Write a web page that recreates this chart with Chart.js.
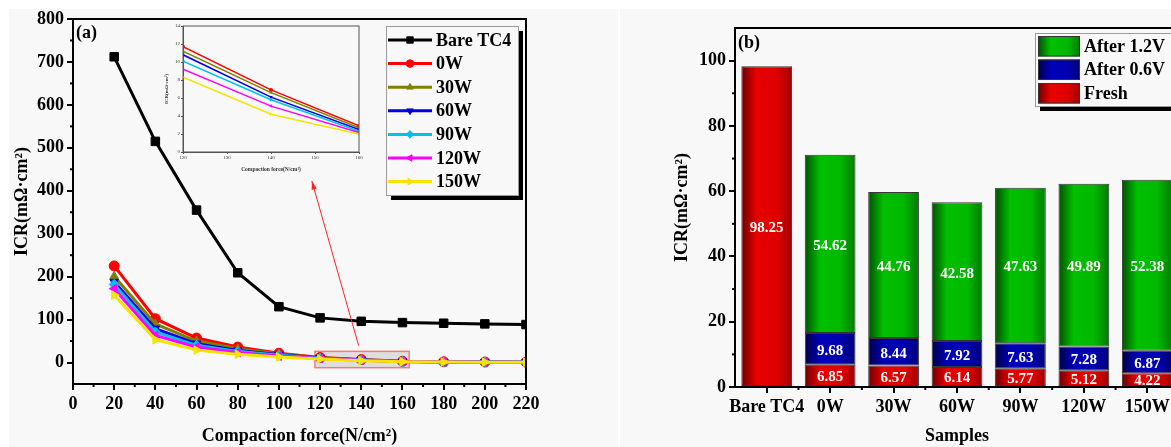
<!DOCTYPE html>
<html>
<head>
<meta charset="utf-8">
<script src="https://cdn.jsdelivr.net/npm/chart.js@4.4.1/dist/chart.umd.min.js"></script>
<style>
  html, body { margin: 0; padding: 0; width: 1171px; height: 447px; overflow: hidden; background: #fff; }
  .panel { position: absolute; background: #f8f8f8; }
  canvas { position: absolute; }
</style>
</head>
<body>
<div class="panel" style="left:9px;top:9px;width:609px;height:438px"></div>
<div class="panel" style="left:620px;top:9px;width:551px;height:438px"></div>
<canvas id="lineChart" width="600" height="447" style="left:0;top:0"></canvas>
<canvas id="insetChart" width="220" height="165" style="left:150px;top:18px"></canvas>
<canvas id="barChart" width="600" height="447" style="left:620px;top:0"></canvas>
<script>
// ---- data, panel (a) ----
var forces = [20, 40, 60, 80, 100, 120, 140, 160, 180, 200, 220];
var bareTC4 = [712, 515, 355, 209, 130, 104, 96, 93, 91.5, 90, 88.5];
var w0 = [225, 102, 57, 36, 21.7, 11.7, 6.9, 2.9, 1.6, 1.2, 0.9];
var w30 = [201, 90, 50, 32, 20, 11.2, 6.6, 2.7, 1.5, 1.1, 0.8];
var w60 = [188, 79, 44, 28, 18, 10.8, 6.1, 2.5, 1.4, 1.0, 0.8];
var w90 = [182, 71, 40, 26, 17, 10.1, 5.8, 2.3, 1.3, 1.0, 0.7];
var w120 = [172, 63, 36, 23, 15, 9.2, 5.1, 2.15, 1.2, 0.9, 0.7];
var w150 = [157, 53, 29, 19, 13, 8.3, 4.2, 2.0, 1.1, 0.8, 0.6];
var seriesNames = ['Bare TC4', '0W', '30W', '60W', '90W', '120W', '150W'];
var seriesValues = [bareTC4, w0, w30, w60, w90, w120, w150];
var xTicks = [0, 20, 40, 60, 80, 100, 120, 140, 160, 180, 200, 220];
var yTicks = [0, 100, 200, 300, 400, 500, 600, 700, 800];

// ---- data, panel (b) ----
var samples = ['Bare TC4', '0W', '30W', '60W', '90W', '120W', '150W'];
var fresh = [98.25, 6.85, 6.57, 6.14, 5.77, 5.12, 4.22];
var after06 = [null, 9.68, 8.44, 7.92, 7.63, 7.28, 6.87];
var after12 = [null, 54.62, 44.76, 42.58, 47.63, 49.89, 52.38];

// styles
var seriesColors = ['#000000', '#ff0000', '#808000', '#0000e0', '#00c0f0', '#ff00ff', '#f5e400'];
var markerStyles = ['rect', 'circle', 'triangle', 'triangle', 'rectRot', 'triangle', 'triangle'];
var markerRotation = [0, 0, 0, 180, 0, -90, 90];
var serif = '"Liberation Serif", "Times New Roman", serif';
var boldFont = { family: serif, size: 18, weight: 'bold' };

function xy(xs, ys) {
    return xs.map(function (x, i) { return { x: x, y: ys[i] }; });
}

// full box around plot area
var frame = {
    id: 'frame',
    afterDraw: function (chart, args, opts) {
        var ctx = chart.ctx, a = chart.chartArea;
        ctx.save();
        ctx.strokeStyle = opts.color || '#000';
        ctx.lineWidth = opts.width || 2;
        ctx.strokeRect(a.left, a.top, a.right - a.left, a.bottom - a.top);
        ctx.restore();
    }
};

// small ticks between the labelled ones
var minorTicks = {
    id: 'minorTicks',
    afterDraw: function (chart, args, opts) {
        var ctx = chart.ctx, a = chart.chartArea;
        var len = opts.len || 3;
        ctx.save();
        ctx.strokeStyle = '#000';
        ctx.lineWidth = opts.width || 2;
        (opts.x || []).forEach(function (v) {
            var px = chart.scales.x.getPixelForValue(v);
            ctx.beginPath(); ctx.moveTo(px, a.bottom); ctx.lineTo(px, a.bottom + len); ctx.stroke();
        });
        (opts.y || []).forEach(function (v) {
            var py = chart.scales.y.getPixelForValue(v);
            ctx.beginPath(); ctx.moveTo(a.left, py); ctx.lineTo(a.left - len, py); ctx.stroke();
        });
        ctx.restore();
    }
};

function onlyTicks(list) {
    return function (scale) {
        scale.ticks = scale.ticks.filter(function (t) { return list.indexOf(t.value) >= 0; });
    };
}

// zoom box, arrow, panel letter and legend of (a)
var panelA = {
    id: 'panelA',
    beforeDatasetsDraw: function (chart) {
        var ctx = chart.ctx, sx = chart.scales.x, sy = chart.scales.y;
        var x0 = sx.getPixelForValue(117.5), x1 = sx.getPixelForValue(163.3);
        var y0 = sy.getPixelForValue(26), y1 = sy.getPixelForValue(-12);
        ctx.save();
        ctx.fillStyle = 'rgba(190,190,190,0.45)';
        ctx.fillRect(x0, y0, x1 - x0, y1 - y0);
        ctx.strokeStyle = 'rgba(245,110,110,0.9)';
        ctx.lineWidth = 1.5;
        ctx.strokeRect(x0, y0, x1 - x0, y1 - y0);
        ctx.restore();
    },
    afterDraw: function (chart) {
        var ctx = chart.ctx, a = chart.chartArea, sx = chart.scales.x, sy = chart.scales.y;
        ctx.save();
        // arrow towards the inset
        var tx = sx.getPixelForValue(138.7), ty = sy.getPixelForValue(39.6);
        var hx = sx.getPixelForValue(116), hy = sy.getPixelForValue(423);
        var ang = Math.atan2(hy - ty, hx - tx);
        ctx.strokeStyle = '#ff2020';
        ctx.fillStyle = '#ff2020';
        ctx.lineWidth = 1;
        ctx.beginPath(); ctx.moveTo(tx, ty); ctx.lineTo(hx, hy); ctx.stroke();
        ctx.beginPath();
        ctx.moveTo(hx, hy);
        ctx.lineTo(hx - 9 * Math.cos(ang - 0.3), hy - 9 * Math.sin(ang - 0.3));
        ctx.lineTo(hx - 9 * Math.cos(ang + 0.3), hy - 9 * Math.sin(ang + 0.3));
        ctx.closePath(); ctx.fill();

        ctx.fillStyle = '#000';
        ctx.font = 'bold 18px ' + serif;
        ctx.textBaseline = 'middle';
        ctx.fillText('(a)', a.left + 3, a.top + 14);

        // legend
        var bx = a.right - 140, by = a.top + 7, bw = 132, bh = 169;
        ctx.fillStyle = '#000';
        ctx.fillRect(bx + 5, by + 5, bw, bh);
        ctx.fillStyle = '#f8f8f8';
        ctx.fillRect(bx, by, bw, bh);
        ctx.strokeStyle = '#9a9a9a';
        ctx.lineWidth = 1;
        ctx.strokeRect(bx + 0.5, by + 0.5, bw, bh);
        seriesNames.forEach(function (name, i) {
            var y = by + 14 + i * 23.6;
            ctx.strokeStyle = seriesColors[i];
            ctx.lineWidth = 3;
            ctx.beginPath(); ctx.moveTo(bx + 2, y); ctx.lineTo(bx + 46, y); ctx.stroke();
            ctx.fillStyle = seriesColors[i];
            ctx.lineWidth = 1;
            Chart.helpers.drawPoint(ctx, { pointStyle: markerStyles[i], radius: i === 0 ? 4.5 : 3.8, rotation: markerRotation[i], borderWidth: 1 }, bx + 24, y);
            ctx.fillStyle = '#000';
            ctx.fillText(name, bx + 50, y + 1);
        });
        ctx.restore();
    }
};

var lineDatasets = seriesNames.map(function (name, i) {
    return {
        label: name,
        data: xy(forces, seriesValues[i]),
        borderColor: seriesColors[i],
        backgroundColor: seriesColors[i],
        borderWidth: 3,
        pointStyle: markerStyles[i],
        pointRotation: markerRotation[i],
        pointRadius: i === 0 ? 6 : 5,
        pointBorderWidth: 1,
        order: seriesNames.length - i
    };
});

var minorX = [], minorY = [];
for (var m = 10; m < 220; m += 20) minorX.push(m);
for (var n = 50; n < 800; n += 100) minorY.push(n);

new Chart(document.getElementById('lineChart'), {
    type: 'line',
    data: { datasets: lineDatasets },
    options: {
        responsive: false,
        animation: false,
        layout: { padding: { top: 19, right: 74, left: 0, bottom: 0 } },
        plugins: {
            legend: { display: false },
            tooltip: { enabled: false },
            frame: { width: 2 },
            minorTicks: { x: minorX, y: minorY, len: 3 }
        },
        scales: {
            x: {
                type: 'linear', min: 0, max: 220,
                afterBuildTicks: onlyTicks(xTicks),
                afterFit: function (s) { s.height = 63; },
                ticks: { stepSize: 20, font: boldFont, color: '#000', padding: 4, maxRotation: 0 },
                grid: { drawOnChartArea: false, tickLength: 6, color: '#000', lineWidth: 2 },
                border: { color: '#000', width: 2 },
                title: { display: true, text: 'Compaction force(N/cm²)', font: boldFont, color: '#000', padding: { top: 0, bottom: 0 } }
            },
            y: {
                type: 'linear', min: -50, max: 800,
                afterBuildTicks: onlyTicks(yTicks),
                afterFit: function (s) { s.width = 73; },
                ticks: { stepSize: 100, font: boldFont, color: '#000', padding: 3 },
                grid: { drawOnChartArea: false, tickLength: 6, color: '#000', lineWidth: 2 },
                border: { color: '#000', width: 2 },
                title: { display: true, text: 'ICR(mΩ·cm²)', font: boldFont, color: '#000', padding: { top: 12, bottom: 0 } }
            }
        }
    },
    plugins: [panelA, frame, minorTicks]
});

// ---- inset (120-160 N/cm2) ----
var insetFont = { family: serif, size: 5 };
var insetDatasets = seriesNames.slice(1).map(function (name, k) {
    var i = k + 1;
    return {
        label: name,
        data: xy(forces.slice(5, 8), seriesValues[i].slice(5, 8)),
        borderColor: seriesColors[i],
        backgroundColor: seriesColors[i],
        borderWidth: 1.5,
        pointStyle: markerStyles[i],
        pointRotation: markerRotation[i],
        pointRadius: 2,
        pointBorderWidth: 0,
        order: seriesNames.length - i
    };
});

new Chart(document.getElementById('insetChart'), {
    type: 'line',
    data: { datasets: insetDatasets },
    options: {
        responsive: false,
        animation: false,
        layout: { padding: { top: 8, right: 11, left: 0, bottom: 0 } },
        plugins: {
            legend: { display: false },
            tooltip: { enabled: false },
            frame: { width: 1, color: '#555' }
        },
        scales: {
            x: {
                type: 'linear', min: 120, max: 160,
                afterFit: function (s) { s.height = 31; },
                ticks: { stepSize: 10, font: insetFont, color: '#333', padding: 1, maxRotation: 0 },
                grid: { drawOnChartArea: false, tickLength: 2, color: '#555', lineWidth: 1 },
                border: { color: '#555', width: 1 },
                title: { display: true, text: 'Compaction force(N/cm²)', font: { family: serif, size: 5.5, weight: 'bold' }, color: '#333', padding: { top: 0, bottom: 10 } }
            },
            y: {
                type: 'linear', min: 0, max: 14,
                afterFit: function (s) { s.width = 33; },
                ticks: { stepSize: 2, font: insetFont, color: '#333', padding: 1 },
                grid: { drawOnChartArea: false, tickLength: 2, color: '#555', lineWidth: 1 },
                border: { color: '#555', width: 1 },
                title: { display: true, text: 'ICR(mΩ·cm²)', font: { family: serif, size: 5, weight: 'bold' }, color: '#333', padding: { top: 14, bottom: 0 } }
            }
        }
    },
    plugins: [frame]
});

// ---- panel (b) ----
var redShade = ['#6e0000', '#e80000', '#e00000', '#a00000'];
var blueShade = ['#000048', '#0000b8', '#0000b0', '#000078'];
var greenShade = ['#005000', '#00c000', '#00b800', '#007a00'];
var barFraction = 0.8;

function fillShade(g, colors) {
    g.addColorStop(0, colors[0]);
    g.addColorStop(0.3, colors[1]);
    g.addColorStop(0.7, colors[2]);
    g.addColorStop(1, colors[3]);
    return g;
}

function shade(colors) {
    return function (context) {
        var chart = context.chart, sx = chart.scales.x;
        if (!sx || !chart.chartArea || context.dataIndex === undefined) return colors[1];
        var cx = sx.getPixelForValue(context.dataIndex);
        var half = sx.width / samples.length * barFraction / 2;
        return fillShade(chart.ctx.createLinearGradient(cx - half, 0, cx + half, 0), colors);
    };
}

var barLabels = {
    id: 'barLabels',
    afterDatasetsDraw: function (chart) {
        var ctx = chart.ctx;
        ctx.save();
        ctx.font = 'bold 15px ' + serif;
        ctx.fillStyle = '#fff';
        ctx.textAlign = 'center';
        ctx.textBaseline = 'middle';
        chart.data.datasets.forEach(function (ds, di) {
            chart.getDatasetMeta(di).data.forEach(function (bar, i) {
                var v = ds.data[i];
                if (v === null || v === undefined) return;
                ctx.fillText(v.toFixed(2), bar.x, (bar.y + bar.base) / 2 + 2);
            });
        });
        ctx.restore();
    }
};

var barLegend = {
    id: 'barLegend',
    afterDraw: function (chart) {
        var ctx = chart.ctx, a = chart.chartArea;
        ctx.save();
        ctx.fillStyle = '#000';
        ctx.font = 'bold 18px ' + serif;
        ctx.textBaseline = 'middle';
        ctx.fillText('(b)', a.left + 3, a.top + 15);

        var bx = a.left + 300, by = a.top + 5, bw = 160, bh = 73;
        ctx.fillStyle = '#000';
        ctx.fillRect(bx + 5, by + 5, bw, bh);
        ctx.fillStyle = '#f8f8f8';
        ctx.fillRect(bx, by, bw, bh);
        ctx.strokeStyle = '#9a9a9a';
        ctx.lineWidth = 1;
        ctx.strokeRect(bx + 0.5, by + 0.5, bw, bh);
        var entries = [['After 1.2V', greenShade], ['After 0.6V', blueShade], ['Fresh', redShade]];
        entries.forEach(function (e, i) {
            var y = by + 3 + i * 23.5;
            ctx.fillStyle = fillShade(ctx.createLinearGradient(bx + 3, 0, bx + 45, 0), e[1]);
            ctx.fillRect(bx + 3, y, 42, 20.5);
            ctx.strokeStyle = '#333';
            ctx.strokeRect(bx + 3.5, y + 0.5, 41, 19.5);
            ctx.fillStyle = '#000';
            ctx.fillText(e[0], bx + 49, y + 11);
        });
        ctx.restore();
    }
};

var minorBarX = [], minorBarY = [];
for (var k = 0; k < samples.length - 1; k++) minorBarX.push(k + 0.5);
for (var q = 10; q < 110; q += 20) minorBarY.push(q);

function barSet(label, values, colors) {
    return {
        label: label,
        data: values,
        backgroundColor: shade(colors),
        borderColor: 'rgba(20,20,20,0.85)',
        borderWidth: 1,
        borderSkipped: false,
        categoryPercentage: barFraction,
        barPercentage: 1
    };
}

new Chart(document.getElementById('barChart'), {
    type: 'bar',
    data: {
        labels: samples,
        datasets: [
            barSet('Fresh', fresh, redShade),
            barSet('After 0.6V', after06, blueShade),
            barSet('After 1.2V', after12, greenShade)
        ]
    },
    options: {
        responsive: false,
        animation: false,
        layout: { padding: { top: 28, right: 41, left: 0, bottom: 0 } },
        plugins: {
            legend: { display: false },
            tooltip: { enabled: false },
            frame: { width: 2 },
            minorTicks: { x: minorBarX, y: minorBarY, len: 3 }
        },
        scales: {
            x: {
                stacked: true,
                afterFit: function (s) { s.height = 60; },
                ticks: { font: boldFont, color: '#000', padding: 4, maxRotation: 0, autoSkip: false },
                grid: { drawOnChartArea: false, offset: false, tickLength: 6, color: '#000', lineWidth: 2 },
                border: { color: '#000', width: 2 },
                title: { display: true, text: 'Samples', font: boldFont, color: '#000', padding: { top: 0, bottom: 0 } }
            },
            y: {
                stacked: true, min: 0, max: 110,
                afterBuildTicks: onlyTicks([0, 20, 40, 60, 80, 100]),
                afterFit: function (s) { s.width = 115; },
                ticks: { stepSize: 20, font: boldFont, color: '#000', padding: 3 },
                grid: { drawOnChartArea: false, tickLength: 6, color: '#000', lineWidth: 2 },
                border: { color: '#000', width: 2 },
                title: { display: true, text: 'ICR(mΩ·cm²)', font: boldFont, color: '#000', padding: { top: 52, bottom: 0 } }
            }
        }
    },
    plugins: [barLegend, barLabels, frame, minorTicks]
});
</script>
</body>
</html>
